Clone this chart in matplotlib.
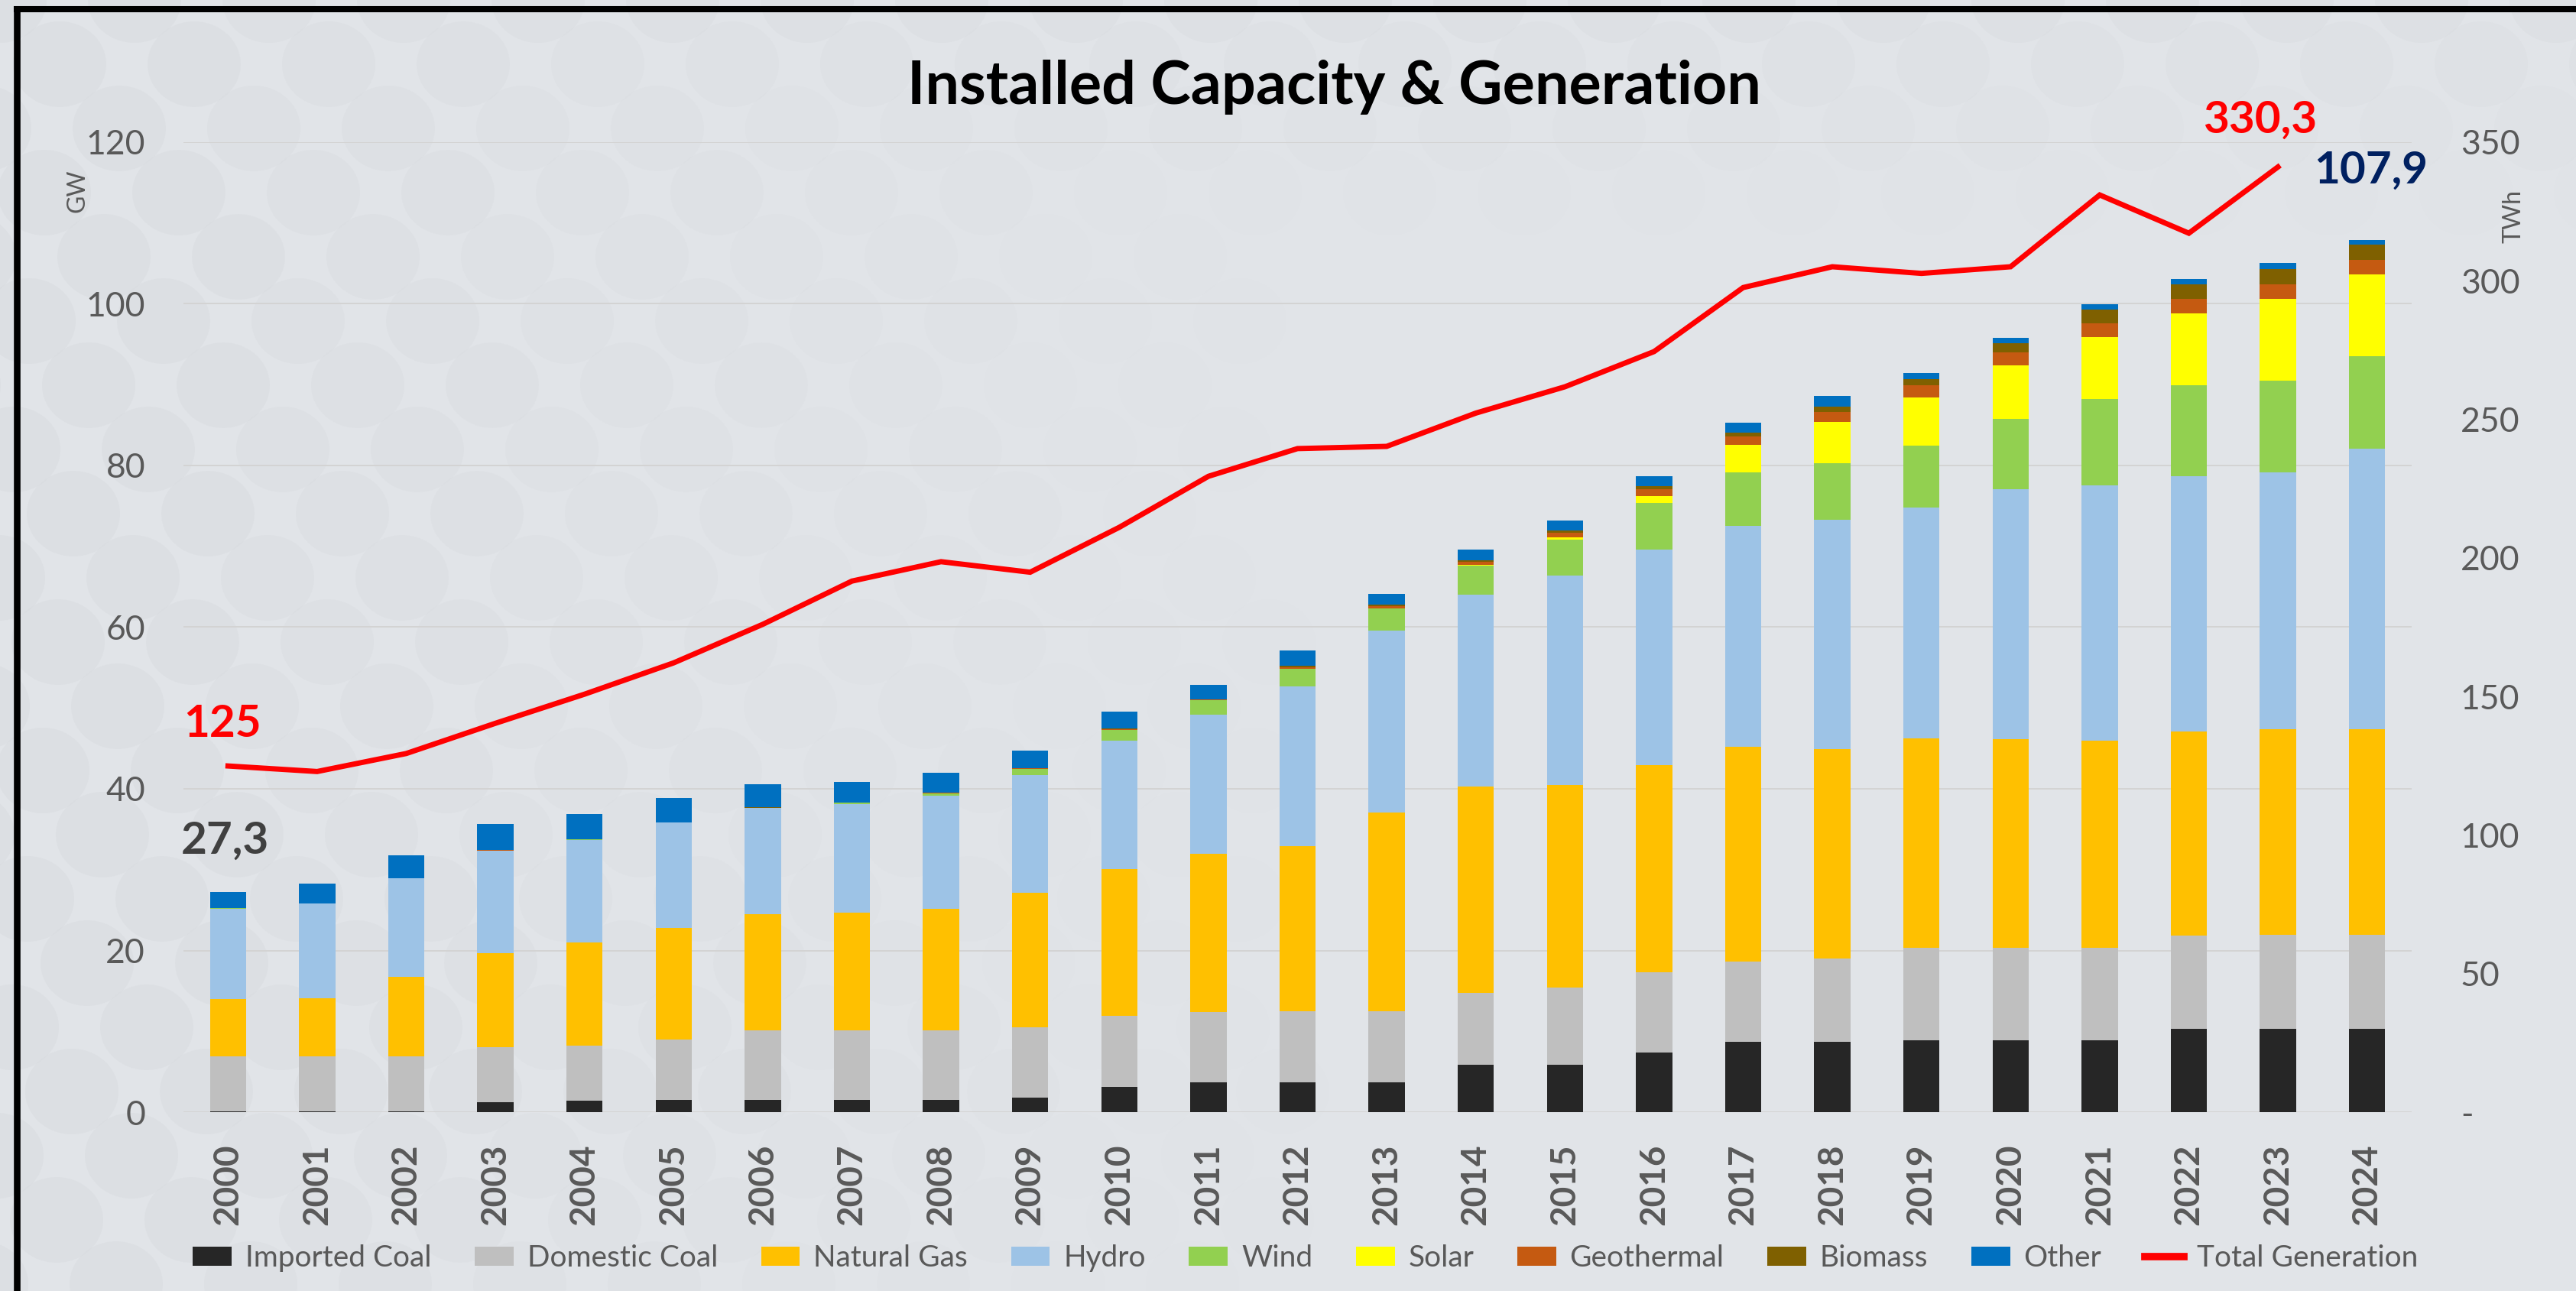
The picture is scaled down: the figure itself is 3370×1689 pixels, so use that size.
import numpy as np
import matplotlib.pyplot as plt
from matplotlib.patches import Ellipse
from matplotlib.lines import Line2D
from matplotlib.ticker import FuncFormatter

plt.rcParams['font.family'] = ['Lato', 'DejaVu Sans']

### DATA ------------------------
years = [str(y) for y in range(2000, 2025)]
# installed capacity, GW
imported_coal = [0.1, 0.1, 0.1, 1.26, 1.4, 1.5, 1.5, 1.5, 1.5, 1.8, 3.1, 3.7, 3.7, 3.7, 5.9, 5.9,
                 7.4, 8.7, 8.7, 8.85, 8.85, 8.85, 10.3, 10.3, 10.3]
domestic_coal = [6.8, 6.8, 6.8, 6.8, 6.8, 7.5, 8.6, 8.6, 8.6, 8.7, 8.8, 8.7, 8.8, 8.8, 8.9, 9.5,
                 9.9, 9.9, 10.3, 11.45, 11.45, 11.45, 11.5, 11.6, 11.6]
natural_gas = [7.1, 7.15, 9.8, 11.6, 12.8, 13.8, 14.4, 14.6, 15.1, 16.6, 18.2, 19.6, 20.4, 24.6, 25.5, 25.1,
               25.6, 26.6, 25.9, 25.9, 25.8, 25.7, 25.3, 25.5, 25.5]
hydro = [11.2, 11.75, 12.2, 12.7, 12.7, 13.0, 13.1, 13.4, 13.9, 14.6, 15.9, 17.2, 19.75, 22.5, 23.7, 25.85,
         26.7, 27.3, 28.4, 28.6, 31.0, 31.5, 31.6, 31.7, 34.7]
wind = [0.02, 0.02, 0.02, 0.02, 0.02, 0.02, 0.06, 0.15, 0.35, 0.75, 1.3, 1.75, 2.2, 2.7, 3.65, 4.45,
        5.8, 6.6, 6.95, 7.6, 8.7, 10.7, 11.2, 11.4, 11.4]
solar = [0, 0, 0, 0, 0, 0, 0, 0, 0, 0, 0, 0, 0, 0.02, 0.05, 0.3,
         0.8, 3.4, 5.15, 6.0, 6.6, 7.7, 8.9, 10.1, 10.1]
geothermal = [0.02, 0.02, 0.02, 0.02, 0.02, 0.02, 0.02, 0.03, 0.03, 0.08, 0.1, 0.1, 0.2, 0.3, 0.35, 0.6,
              0.9, 1.1, 1.2, 1.5, 1.6, 1.7, 1.8, 1.8, 1.8]
biomass = [0.02, 0.02, 0.02, 0.02, 0.02, 0.02, 0.03, 0.03, 0.03, 0.05, 0.05, 0.05, 0.15, 0.2, 0.25, 0.3,
           0.35, 0.45, 0.7, 0.8, 1.1, 1.7, 1.8, 1.9, 1.9]
other = [2.0, 2.45, 2.85, 3.2, 3.1, 3.0, 2.9, 2.55, 2.5, 2.16, 2.1, 1.8, 1.9, 1.3, 1.3, 1.2,
         1.2, 1.25, 1.3, 0.7, 0.7, 0.6, 0.7, 0.7, 0.6]
# total generation, TWh (2000-2023)
generation = [124.9, 122.9, 129.4, 140.3, 150.8, 162.1, 176.0, 191.6, 198.6, 194.8, 211.0, 229.4,
              239.4, 240.2, 252.2, 261.7, 274.4, 297.5, 305.0, 302.6, 305.0, 330.9, 317.1, 341.0]

series = [("Imported Coal", imported_coal, "#262626"),
          ("Domestic Coal", domestic_coal, "#BFBFBF"),
          ("Natural Gas", natural_gas, "#FFC000"),
          ("Hydro", hydro, "#9DC3E6"),
          ("Wind", wind, "#92D050"),
          ("Solar", solar, "#FFFF00"),
          ("Geothermal", geothermal, "#C55A11"),
          ("Biomass", biomass, "#7F6000"),
          ("Other", other, "#0070C0")]

W, H = 3370, 1689
fig = plt.figure(figsize=(W / 200, H / 200), dpi=200)
fig.patch.set_facecolor('#E1E4E8')

### BACKGROUND PATTERN ------------------------
for row in range(-1, 22):
    for col in range(-1, 22):
        cx = col * 176 + (88 if row % 2 else 0) - row * 10
        cy = row * 84
        a = max(0.0, 1.0 - cx / (0.5 * W))
        a = max(a, 0.8 * max(0.0, 1.0 - cy / 300))
        if a <= 0:
            continue
        fig.patches.append(Ellipse((cx / W, 1 - cy / H), 122 / W, 112 / H, transform=fig.transFigure,
                                   facecolor='#D8DBDF', edgecolor='none', alpha=min(a, 1.0) * 0.55,
                                   zorder=-5))

# frame (top and left edges only)
fig.add_artist(Line2D([22 / W, 1.0], [1 - 12 / H, 1 - 12 / H], color='black', lw=2.9,
                      transform=fig.transFigure))
fig.add_artist(Line2D([22 / W, 22 / W], [0.0, 1 - 12 / H], color='black', lw=3.1,
                      transform=fig.transFigure))

### CHART ------------------------
ax = fig.add_axes([240 / W, 0.1385, (3155 - 240) / W, 0.7515])
ax.set_facecolor('none')
x = np.arange(len(years))
bottom = np.zeros(len(years))
handles = []
for name, vals, col in series:
    b = ax.bar(x, vals, 0.405, bottom=bottom, color=col, label=name, zorder=3, linewidth=0)
    handles.append(b)
    bottom += np.array(vals)

ax.set_xlim(-0.5, len(years) - 0.5)
ax.set_ylim(0, 120)
ax.set_yticks(range(0, 121, 20))
ax.grid(axis='y', color='#D3D3D3', lw=0.7, zorder=0)
for s in ax.spines.values():
    s.set_visible(False)
ax.set_xticks(x)
ax.set_xticklabels(years, rotation=90, fontsize=16.5, fontweight='bold', color='#595959')
ax.tick_params(axis='x', length=0, pad=15)
ax.tick_params(axis='y', length=0, pad=18, labelsize=16, labelcolor='#595959')

ax2 = ax.twinx()
ax2.set_ylim(0, 350)
ax2.set_yticks(range(0, 351, 50))
ax2.yaxis.set_major_formatter(FuncFormatter(lambda v, p: '-' if v == 0 else f'{v:.0f}'))
ax2.tick_params(axis='y', length=0, pad=23, labelsize=16, labelcolor='#595959')
for s in ax2.spines.values():
    s.set_visible(False)
line, = ax2.plot(x[:len(generation)], generation, color='#FF0000', lw=2.5,
                 solid_joinstyle='miter', label='Total Generation', zorder=5)
handles.append(line)

# unit labels
fig.text(101 / W, 1 - 250 / H, 'GW', rotation=90, ha='center', va='center', fontsize=11.5, color='#595959')
fig.text(3288 / W, 1 - 283 / H, 'TWh', rotation=90, ha='center', va='center', fontsize=11.5, color='#595959')

# value labels
fig.text(291 / W, 1 - 947 / H, '125', ha='center', va='center', fontsize=21, fontweight='bold', color='#FF0000')
fig.text(294 / W, 1 - 1100 / H, '27,3', ha='center', va='center', fontsize=21, fontweight='bold', color='#404040')
fig.text(2957 / W, 1 - 157 / H, '330,3', ha='center', va='center', fontsize=21, fontweight='bold', color='#FF0000')
fig.text(3102 / W, 1 - 223 / H, '107,9', ha='center', va='center', fontsize=21, fontweight='bold', color='#002060')

# title
fig.text(0.518, 1 - 136 / H, 'Installed Capacity & Generation', ha='center', va='baseline',
         fontsize=28.5, fontweight='bold', color='black')

leg = fig.legend(handles=handles, loc='center', bbox_to_anchor=(0.5 + (242 + 3174 - W) / 2 / W, 1 - 1646 / H),
                 ncol=10, frameon=False, fontsize=14, handlelength=1.31, handleheight=0.62,
                 handletextpad=0.46, columnspacing=1.45, labelcolor='#595959')
for lh in leg.legend_handles[-1:]:
    lh.set_linewidth(3.5)

fig.savefig('out.png', dpi=200, facecolor=fig.get_facecolor())
